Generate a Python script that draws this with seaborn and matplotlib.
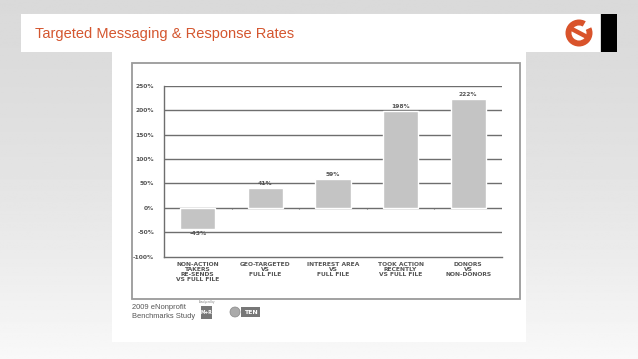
import numpy as np
import pandas as pd
import matplotlib
matplotlib.use('Agg')
import matplotlib.pyplot as plt
import matplotlib.patches as mpatches
import seaborn as sns

# ---- data ----
categories = ['NON-ACTION\nTAKERS\nRE-SENDS\nVS FULL FILE',
              'GEO-TARGETED\nVS\nFULL FILE',
              'INTEREST AREA\nVS\nFULL FILE',
              'TOOK ACTION\nRECENTLY\nVS FULL FILE',
              'DONORS\nVS\nNON-DONORS']
values = [-43, 41, 59, 198, 222]
y_ticks = [-100, -50, 0, 50, 100, 150, 200, 250]
title = 'Targeted Messaging & Response Rates'

df = pd.DataFrame({'cat': categories, 'val': values})

sns.set_style('white')
plt.rcParams['font.family'] = ['DejaVu Sans']

W, H = 638, 359
fig = plt.figure(figsize=(W / 100, H / 100), dpi=100)

# ---- page background, drawn in pixel coordinates ----
bg = fig.add_axes([0, 0, 1, 1], zorder=0)
bg.set_xlim(0, W)
bg.set_ylim(H, 0)
bg.axis('off')
grad = np.linspace(0, 1, 200)[:, None]
grad = np.repeat(grad, 2, axis=1)
bg.imshow(0.855 + 0.12 * grad ** 1.6, cmap='gray', vmin=0, vmax=1,
          extent=[0, W, H, 0], aspect='auto')

# header banner
bg.add_patch(mpatches.Rectangle((21, 14), 579, 38, facecolor='white', edgecolor='none'))
bg.add_patch(mpatches.Rectangle((601, 14), 16, 38, facecolor='black', edgecolor='none'))
bg.text(35, 34, title, color='#d4562f', fontsize=10.5, va='center', ha='left',
        family=['Liberation Sans', 'DejaVu Sans'])

# logo
cx, cy = 579, 33
bg.add_patch(mpatches.Circle((cx, cy), 13.5, facecolor='#d9532b', edgecolor='none'))
bg.add_patch(mpatches.Circle((cx, cy), 7.5, facecolor='white', edgecolor='none'))
bg.add_patch(mpatches.Wedge((cx, cy), 14.5, 300, 335, facecolor='white', edgecolor='none'))
bg.plot([cx - 11, cx + 10], [cy - 6, cy + 5], color='#d9532b', lw=3.2, solid_capstyle='butt')

# chart panel
bg.add_patch(mpatches.Rectangle((112, 52), 414, 290, facecolor='white', edgecolor='none'))
bg.add_patch(mpatches.Rectangle((132, 63), 388, 236, facecolor='none',
                                edgecolor='#9a9a9a', lw=1.3))

# footer
bg.text(132, 312, '2009 eNonprofit\nBenchmarks Study', fontsize=5.4, color='#555555',
        va='center', ha='left', linespacing=1.25, family=['Liberation Sans', 'DejaVu Sans'])
bg.text(207, 302.5, 'Analyzed by', fontsize=1.8, color='#777777', ha='center', va='center')
bg.add_patch(mpatches.Rectangle((201, 306), 11, 13, facecolor='#777777', edgecolor='none'))
bg.text(206.5, 312.5, 'M+R', fontsize=3.3, color='white', ha='center', va='center',
        weight='bold')
bg.add_patch(mpatches.Circle((235, 312), 5, facecolor='#aaaaaa', edgecolor='#888888', lw=0.5))
bg.add_patch(mpatches.Rectangle((241, 307), 19, 10, facecolor='#777777', edgecolor='none'))
bg.text(250.5, 312, 'TEN', fontsize=4.5, color='white', ha='center', va='center', weight='bold')

# ---- chart ----
ax = fig.add_axes([164 / W, 1 - 256.7 / H, (502 - 164) / W, (256.7 - 85.7) / H], zorder=2)
ax.patch.set_alpha(0)
sns.barplot(data=df, x='cat', y='val', color='#c4c4c4', width=0.52, saturation=1,
            ax=ax, zorder=3)
ax.set_ylim(-100, 250)
ax.set_xlim(-0.5, len(categories) - 0.5)
ax.set_yticks(y_ticks)
ax.set_yticklabels([f'{t}%' for t in y_ticks], fontsize=4.3, color='#555555', weight='bold')
ax.tick_params(axis='y', length=0, pad=7)
ax.tick_params(axis='x', length=0, pad=4)
ax.set_xticks(range(len(categories)))
ax.set_xticklabels(categories, fontsize=4.3, color='#555555', weight='bold', linespacing=1.0)
ax.set_xlabel('')
ax.set_ylabel('')
for t in y_ticks[1:]:
    ax.axhline(t, color='#6e6e6e', lw=1.0, zorder=2)
for s in ['top', 'right']:
    ax.spines[s].set_visible(False)
for s in ['left', 'bottom']:
    ax.spines[s].set_color('#6e6e6e')
    ax.spines[s].set_linewidth(1.0)
# tick marks on the zero line between categories
ax.vlines(np.arange(len(categories)) + 0.5, -3, 0, color='#6e6e6e', lw=0.8, zorder=2)

for i, v in enumerate(values):
    off = 9 if v >= 0 else -9
    ax.text(i, v + off, f'{v}%', ha='center', va='center', fontsize=4.3,
            color='#555555', weight='bold', zorder=4)

fig.savefig('out.png', dpi=100)
